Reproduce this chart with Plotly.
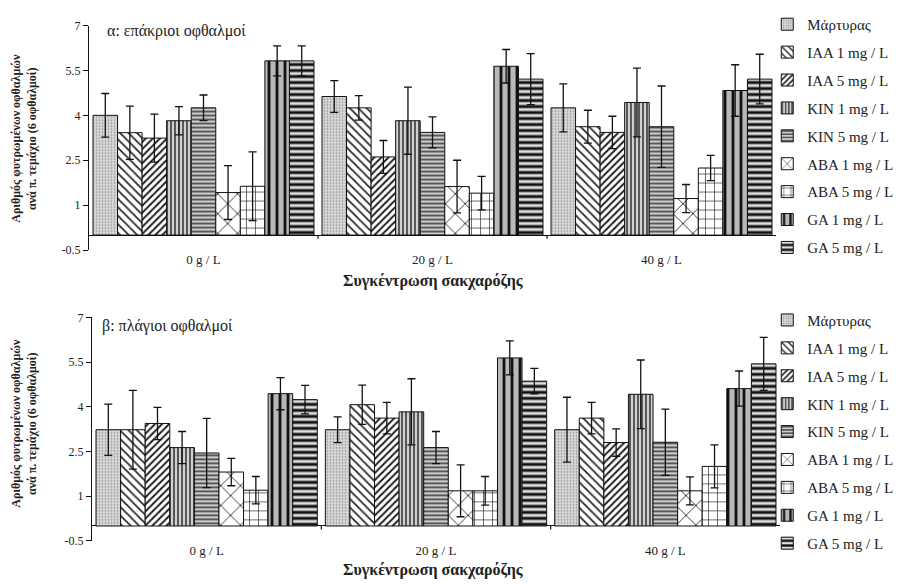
import plotly.graph_objects as go

# Sucrose concentration groups
groups = ["0 g / L", "20 g / L", "40 g / L"]

# Treatments (legend order)
treatments = ["Μάρτυρας", "IAA 1 mg / L", "IAA 5 mg / L", "KIN 1 mg / L", "KIN 5 mg / L",
              "ABA 1 mg / L", "ABA 5 mg / L", "GA 1 mg / L", "GA 5 mg / L"]

# (a) apical buds: mean sprouted buds per cutting, one row per treatment
apical_mean = [
    [4.00, 4.63, 4.25],
    [3.42, 4.25, 3.62],
    [3.24, 2.61, 3.43],
    [3.82, 3.82, 4.43],
    [4.25, 3.43, 3.62],
    [1.42, 1.62, 1.22],
    [1.63, 1.40, 2.24],
    [5.82, 5.64, 4.83],
    [5.82, 5.21, 5.21],
]
apical_err = [
    [0.73, 0.53, 0.80],
    [0.89, 0.41, 0.55],
    [0.80, 0.55, 0.54],
    [0.47, 1.12, 1.15],
    [0.43, 0.52, 1.36],
    [0.90, 0.88, 0.47],
    [1.15, 0.56, 0.42],
    [0.50, 0.56, 0.86],
    [0.50, 0.85, 0.83],
]

# (b) lateral buds
lateral_mean = [
    [3.23, 3.23, 3.23],
    [3.23, 4.07, 3.62],
    [3.44, 3.62, 2.80],
    [2.63, 3.83, 4.42],
    [2.45, 2.63, 2.81],
    [1.81, 1.18, 1.18],
    [1.20, 1.18, 2.00],
    [4.44, 5.64, 4.61],
    [4.24, 4.86, 5.44],
]
lateral_err = [
    [0.86, 0.43, 1.09],
    [1.32, 0.66, 0.53],
    [0.54, 0.53, 0.46],
    [0.54, 1.11, 1.15],
    [1.16, 0.54, 1.11],
    [0.46, 0.87, 0.47],
    [0.46, 0.48, 0.72],
    [0.54, 0.57, 0.59],
    [0.48, 0.43, 0.89],
]

y_ticks = [-0.5, 1, 2.5, 4, 5.5, 7]

# Fill pattern per treatment: (shape, size, solidity, fgcolor, bgcolor)
patterns = [
    (".", 3, 0.25, "#8c8c8c", "#dadada"),
    ("\\", 6, 0.30, "#2a2a2a", "#ffffff"),
    ("/", 5, 0.40, "#1f1f1f", "#ffffff"),
    ("|", 4, 0.40, "#3a3a3a", "#d0d0d0"),
    ("-", 4, 0.40, "#3a3a3a", "#cfcfcf"),
    ("x", 14, 0.12, "#222222", "#ffffff"),
    ("+", 9, 0.14, "#222222", "#ffffff"),
    ("|", 8, 0.35, "#111111", "#b8b8b8"),
    ("-", 6, 0.50, "#111111", "#e0e0e0"),
]

FONT = "Liberation Serif"
INK = "#222222"

fig = go.Figure()


def add_panel(means, errs, xaxis, yaxis, legend, tag):
    for i, name in enumerate(treatments):
        shape, size, solid, fg, bg = patterns[i]
        fig.add_trace(go.Bar(
            name=name,
            x=groups,
            y=means[i],
            xaxis=xaxis,
            yaxis=yaxis,
            legend=legend,
            legendgroup=f"{tag}{i}",
            marker=dict(
                color=bg,
                line=dict(color="#111111", width=1),
                pattern=dict(shape=shape, size=size, solidity=solid,
                             fgcolor=fg, bgcolor=bg, fillmode="replace"),
            ),
            error_y=dict(type="data", array=errs[i], symmetric=True,
                         color="#111111", thickness=1.3, width=4),
        ))


add_panel(apical_mean, apical_err, "x", "y", "legend", "a")
add_panel(lateral_mean, lateral_err, "x2", "y2", "legend2", "b")

yaxis_common = dict(
    range=[-0.5, 7], tickvals=y_ticks, ticktext=[f"{v:g}" for v in y_ticks],
    showline=True, linecolor="#111111", linewidth=1.2, ticks="outside",
    ticklen=5, tickcolor="#111111", showgrid=False,
    zeroline=True, zerolinecolor="#111111", zerolinewidth=1.2,
    tickfont=dict(family=FONT, size=12, color=INK),
)
xaxis_common = dict(
    showline=False, showgrid=False, zeroline=False, ticks="",
    tickfont=dict(family=FONT, size=13, color=INK),
)

legend_common = dict(
    font=dict(family=FONT, size=15, color=INK),
    bgcolor="rgba(0,0,0,0)", xanchor="left", yanchor="top",
    tracegroupgap=5.4, itemclick=False,
)

fig.update_layout(
    width=908, height=584,
    margin=dict(l=0, r=0, t=0, b=0),
    paper_bgcolor="white", plot_bgcolor="white",
    barmode="group", bargap=0.035, bargroupgap=0,
    xaxis=dict(domain=[89 / 908, 776 / 908], anchor="y", **xaxis_common),
    yaxis=dict(domain=[1 - 249 / 584, 1 - 19 / 584], anchor="x", **yaxis_common),
    xaxis2=dict(domain=[92 / 908, 780 / 908], anchor="y2", **xaxis_common),
    yaxis2=dict(domain=[1 - 547 / 584, 1 - 318 / 584], anchor="x2", **yaxis_common),
    legend=dict(x=0.845, y=1 - 1 / 584, **legend_common),
    legend2=dict(x=0.845, y=1 - 304 / 584, **legend_common),
    showlegend=True,
)

# small boundary ticks between sucrose groups on the baseline
for xr, yr in (("x", "y"), ("x2", "y2")):
    for b in (0.5, 1.5):
        fig.add_shape(type="line", xref=xr, yref=yr, x0=b, x1=b, y0=0, y1=-0.12,
                      line=dict(color="#111111", width=1.2))

ytitle = "<b>Αριθμός φυτρωμένων οφθαλμών</b><br><b>ανά π. τεμάχιο (6 οφθαλμοί)</b>"
for yc in (135, 427):
    fig.add_annotation(text=ytitle, xref="paper", yref="paper", x=24 / 908, y=1 - yc / 584,
                       textangle=-90, showarrow=False, xanchor="center", yanchor="middle",
                       font=dict(family=FONT, size=12, color=INK))

for yc in (281, 577):
    fig.add_annotation(text="<b>Συγκέντρωση σακχαρόζης</b>", xref="paper", yref="paper",
                       x=433 / 908, y=1 - yc / 584, showarrow=False,
                       xanchor="center", yanchor="middle",
                       font=dict(family=FONT, size=16, color=INK))

for txt, x, y in (("α: επάκριοι οφθαλμοί", 105, 25), ("β: πλάγιοι οφθαλμοί", 100, 327)):
    fig.add_annotation(text=txt, xref="paper", yref="paper", x=x / 908, y=1 - y / 584,
                       xanchor="left", yanchor="middle", showarrow=False,
                       font=dict(family=FONT, size=16, color=INK))

fig.write_html("out.html")
